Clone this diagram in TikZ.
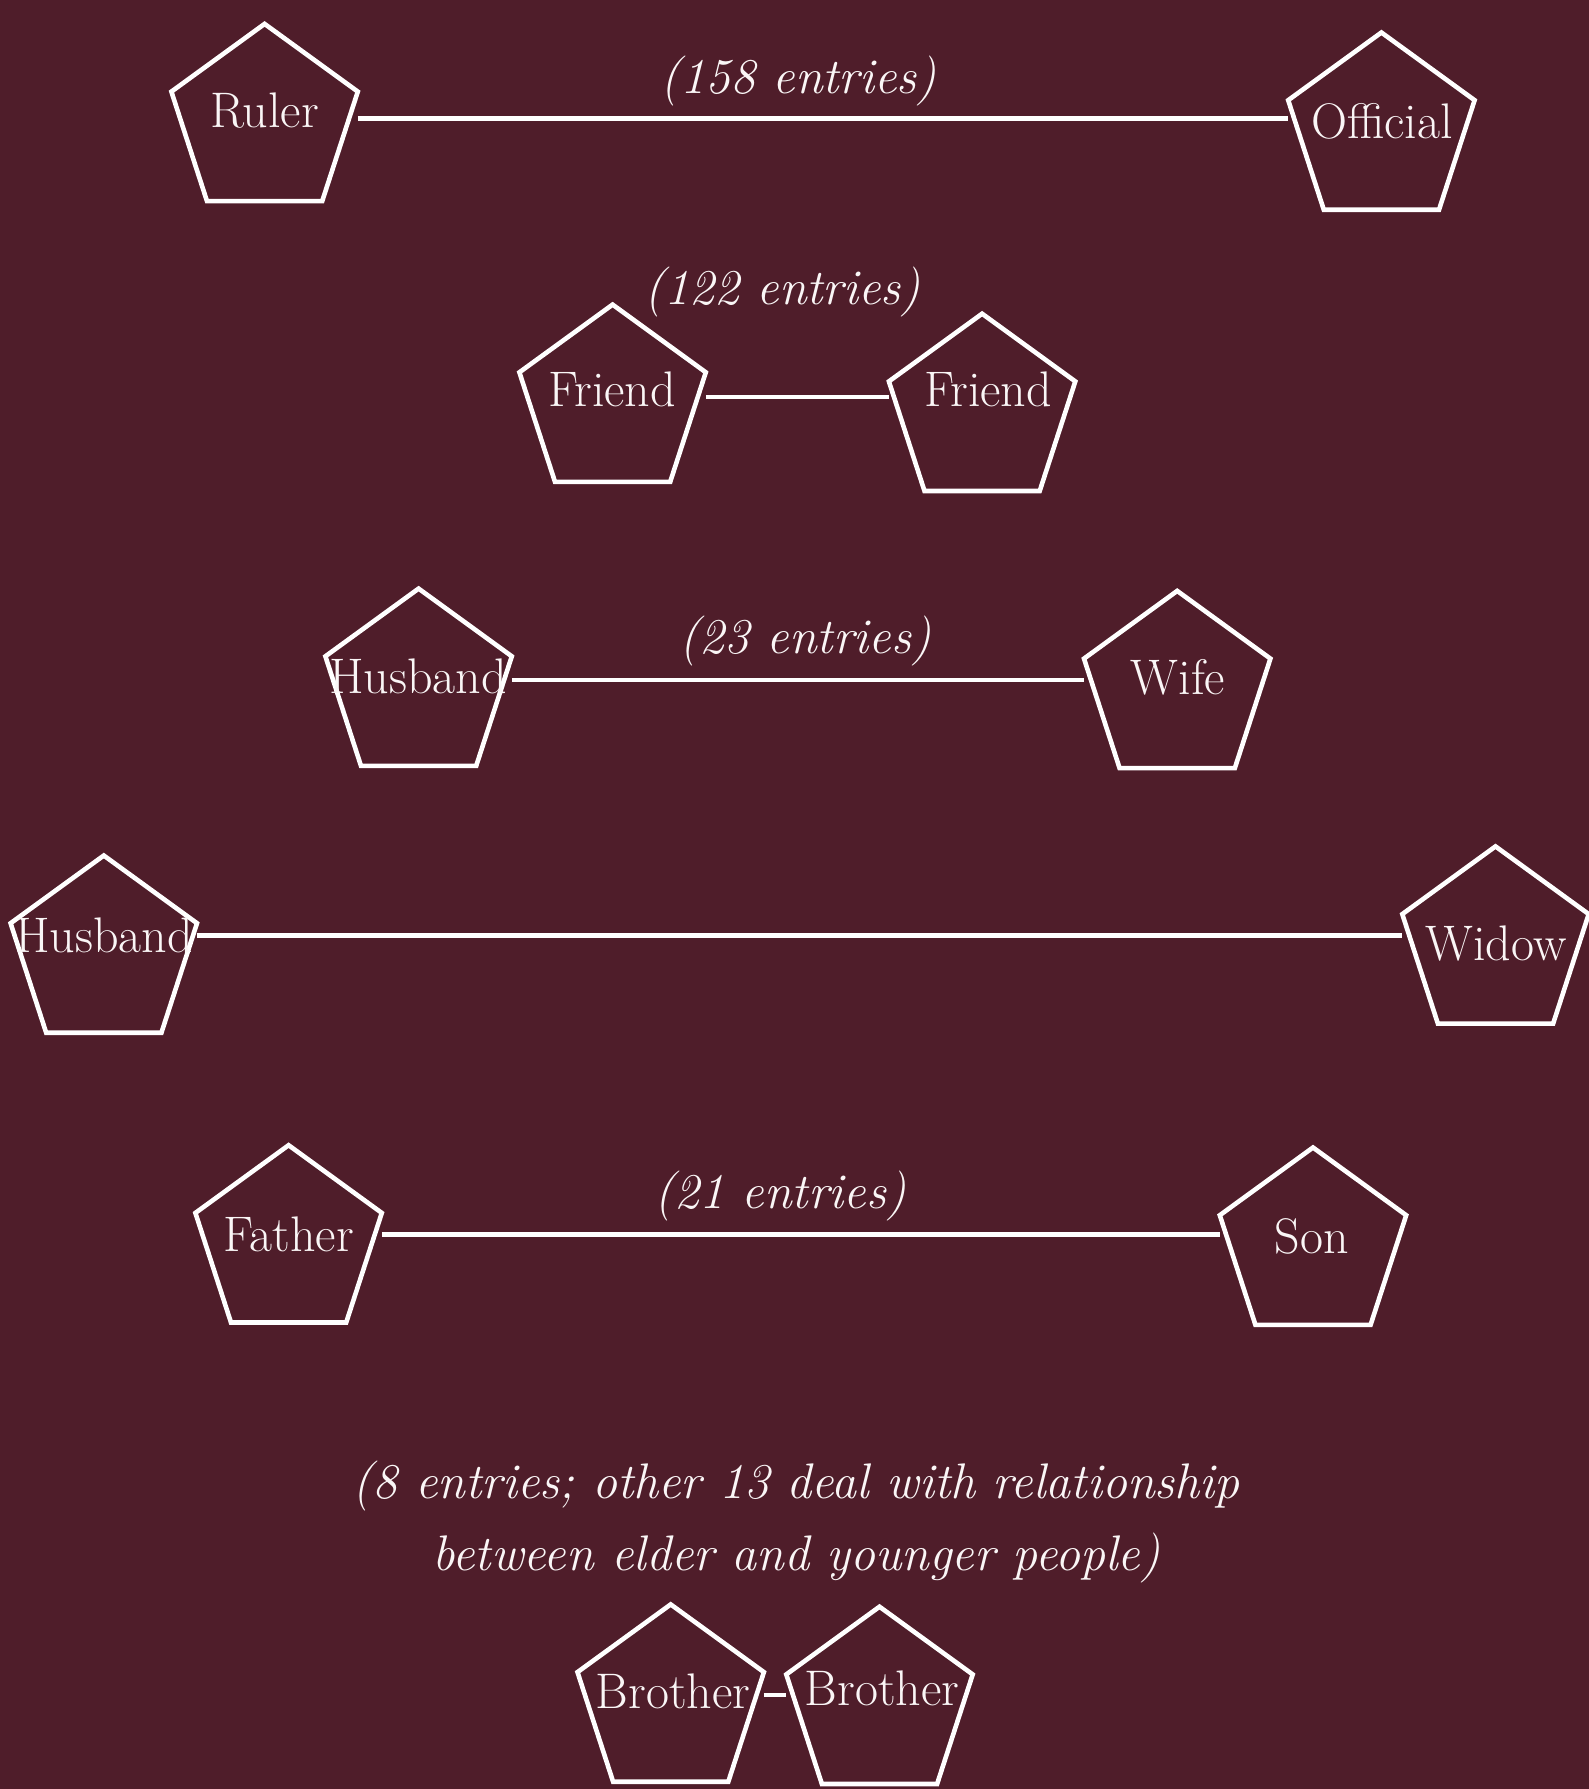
\documentclass[tikz,border=0pt]{standalone}
\usetikzlibrary{shapes.geometric}
\definecolor{bg}{RGB}{79,29,42}
\definecolor{ink}{RGB}{250,246,246}
\begin{document}
\begin{tikzpicture}[x=1pt,y=-1pt,
 pent/.style={draw=white, line width=4.6pt, regular polygon, regular polygon sides=5,
   minimum size=196pt, inner sep=0pt, outer sep=0pt},
 lbl/.style={text=ink, font=\fontsize{50}{60}\selectfont, anchor=base, inner sep=0pt},
 entrynote/.style={text=ink, font=\fontsize{50}{72}\selectfont\itshape, anchor=base, inner sep=0pt, align=center},
 conn/.style={draw=white, line width=4.6pt}]
\fill[bg] (0,0) rectangle (1589,1789);
\useasboundingbox (0,0) rectangle (1589,1789);

% Row 1
\node[pent] (ruler) at (264.6,121.9) {};
\node[pent] (official) at (1381.4,130.5) {};
\node[lbl] (rulerT) at (264.6,127.8) {Ruler};
\node[lbl] (officialT) at (1382,138) {Official};
\draw[conn] (ruler.corner 5 |- 0,118.6) -- (official.corner 2 |- 0,118.6);
\node[entrynote] (n1) at (798.5,93.5) {(158 entries)};

% Row 2
\node[pent] (friendA) at (612.6,402.6) {};
\node[pent] (friendB) at (982.1,411.7) {};
\node[lbl] (friendAT) at (612,406) {Friend};
\node[lbl] (friendBT) at (988,406) {Friend};
\draw[conn] (friendA.corner 5 |- 0,397) -- (friendB.corner 2 |- 0,397);
\node[entrynote] (n2) at (782.5,304.6) {(122 entries)};

% Row 3
\node[pent] (husbandA) at (418.6,686.6) {};
\node[pent] (wife) at (1177.2,688.9) {};
\node[lbl] (husbandAT) at (418,693.6) {Husband};
\node[lbl] (wifeT) at (1178,694.7) {Wife};
\draw[conn] (husbandA.corner 5 |- 0,679.9) -- (wife.corner 2 |- 0,679.9);
\node[entrynote] (n3) at (805.3,653.6) {(23 entries)};

% Row 4
\node[pent] (husbandB) at (103.8,953.5) {};
\node[pent] (widow) at (1495.5,944.4) {};
\node[lbl] (husbandBT) at (104,952.5) {Husband};
\node[lbl] (widowT) at (1496,960.5) {Widow};
\draw[conn] (husbandB.corner 5 |- 0,935.4) -- (widow.corner 2 |- 0,935.4);

% Row 5
\node[pent] (father) at (288.6,1243.2) {};
\node[pent] (son) at (1313,1245.5) {};
\node[lbl] (fatherT) at (288.6,1251.3) {Father};
\node[lbl] (sonT) at (1312,1253.6) {Son};
\draw[conn] (father.corner 5 |- 0,1234.2) -- (son.corner 2 |- 0,1234.2);
\node[entrynote] (n5) at (780.2,1208) {(21 entries)};

% Row 6
\node[entrynote] (n6) at (796.2,1570.8) {(8 entries; other 13 deal with relationship\\between elder and younger people)};
\node[pent] (brotherA) at (670.7,1702.4) {};
\node[pent] (brotherB) at (879.5,1704.7) {};
\node[lbl] (brotherAT) at (673,1708.8) {Brother};
\node[lbl] (brotherBT) at (882,1705.3) {Brother};
\draw[conn] (brotherA.corner 5 |- 0,1695) -- (brotherB.corner 2 |- 0,1695);
\end{tikzpicture}
\end{document}
